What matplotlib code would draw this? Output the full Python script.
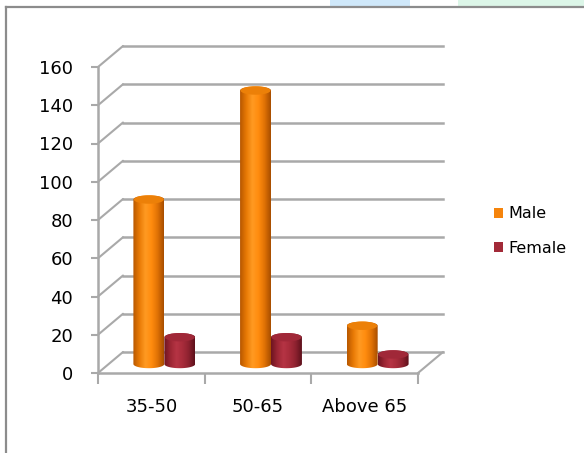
import numpy as np
import matplotlib
matplotlib.use('Agg')
import matplotlib.pyplot as plt
from matplotlib.patches import PathPatch, Ellipse, Patch, Rectangle
from matplotlib.path import Path
from matplotlib.colors import LinearSegmentedColormap
from matplotlib.lines import Line2D
import matplotlib.transforms as mtransforms

categories = ['35-50', '50-65', 'Above 65']
male = [86, 143, 20]
female = [14, 14, 5]
series_names = ['Male', 'Female']
y_ticks = [0, 20, 40, 60, 80, 100, 120, 140, 160]

DPI = 100
fig = plt.figure(figsize=(5.84, 4.53), dpi=DPI)
W, H = 584, 453

# front plane of the pseudo-3D box
ax = fig.add_axes([98 / W, 80 / H, 320 / W, 306 / H])
ax.set_facecolor('none')

grid_col = '#a9a9a9'
depth = mtransforms.ScaledTranslation(25 / DPI, 21 / DPI, fig.dpi_scale_trans)
mid = mtransforms.ScaledTranslation(13 / DPI, 9 / DPI, fig.dpi_scale_trans)
back_tr = ax.transData + depth
mid_tr = ax.transData + mid

ncat = len(categories)

# back wall gridlines and the side/floor edges
for v in y_ticks:
    ax.add_line(Line2D([0, ncat], [v, v], transform=back_tr, color=grid_col,
                       lw=1.8, zorder=1, clip_on=False))
    ax.annotate('', xy=(0, v), xycoords=back_tr, xytext=(0, v),
                textcoords='data', arrowprops=dict(arrowstyle='-', color=grid_col, lw=1.5,
                                                   shrinkA=0, shrinkB=0), zorder=1)
ax.annotate('', xy=(ncat, 0), xycoords=back_tr, xytext=(ncat, 0),
            textcoords='data', arrowprops=dict(arrowstyle='-', color=grid_col, lw=1.5,
                                               shrinkA=0, shrinkB=0), zorder=1)

orange_cmap = LinearSegmentedColormap.from_list(
    'org', ['#b85800', '#e87a05', '#ff9a22', '#ff8c0e', '#e07205', '#a84e00'])
red_cmap = LinearSegmentedColormap.from_list(
    'red', ['#6e1520', '#9c2634', '#b63444', '#a82c3b', '#8e2230', '#5e111b'])
top_cols = ['#ec8008', '#a02838']
cmaps = [orange_cmap, red_cmap]

bar_w = 0.29
ell_h = 4.4  # ellipse height in value units


def cylinder(xc, val, cmap, top_col):
    x0, x1 = xc - bar_w / 2, xc + bar_w / 2
    t = np.linspace(np.pi, 2 * np.pi, 40)
    bottom = np.column_stack([xc + bar_w / 2 * np.cos(t), ell_h / 2 * np.sin(t)])
    t2 = np.linspace(0, np.pi, 40)
    top = np.column_stack([xc + bar_w / 2 * np.cos(t2), val + ell_h / 2 * np.sin(t2)])
    verts = np.vstack([bottom, top, bottom[:1]])
    shape = PathPatch(Path(verts), transform=mid_tr, facecolor='none',
                      edgecolor='none', zorder=3)
    ax.add_patch(shape)
    grad = np.linspace(0, 1, 64).reshape(1, -1)
    im = ax.imshow(grad, cmap=cmap, aspect='auto', extent=(x0, x1, -ell_h, val + ell_h),
                   transform=mid_tr, zorder=3, interpolation='bilinear')
    im.set_clip_path(shape)
    ax.add_patch(Ellipse((xc, val), bar_w * 0.97, ell_h, transform=mid_tr,
                         facecolor=top_col, edgecolor='none', zorder=4))


for s, (vals, cmap, tc) in enumerate(zip([male, female], cmaps, top_cols)):
    for i, v in enumerate(vals):
        xc = i + 0.5 + (-0.145 if s == 0 else 0.145)
        cylinder(xc, v, cmap, tc)

ax.set_xlim(0, ncat)
ax.set_ylim(0, 160)

for side in ['top', 'right']:
    ax.spines[side].set_visible(False)
for side in ['left', 'bottom']:
    ax.spines[side].set_color(grid_col)
    ax.spines[side].set_linewidth(1.8)

ax.set_yticks(y_ticks)
ax.tick_params(axis='y', length=5, width=1.5, color=grid_col, pad=13, labelsize=13)
ax.set_xticks(np.arange(ncat + 1))
ax.set_xticklabels([])
ax.tick_params(axis='x', which='major', length=8, width=1.5, color=grid_col)
ax.set_xticks(np.arange(ncat) + 0.5, minor=True)
ax.set_xticklabels(categories, minor=True)
ax.tick_params(axis='x', which='minor', length=0, pad=18, labelsize=13)

handles = [Patch(facecolor='#f5840c', edgecolor='none'),
           Patch(facecolor='#a22a38', edgecolor='none')]
fig.legend(handles, series_names, loc='center left', bbox_to_anchor=(480 / W, 1 - 231 / H),
           frameon=False, fontsize=11.5, handlelength=0.55, handleheight=0.55,
           handletextpad=0.3, labelspacing=1.2)

# chart frame and the page strip above it
fig.add_artist(Rectangle((330 / W, 1 - 7 / H), 80 / W, 7 / H, transform=fig.transFigure,
                         facecolor='#cfe8fa', edgecolor='none'))
fig.add_artist(Rectangle((458 / W, 1 - 7 / H), 126 / W, 7 / H, transform=fig.transFigure,
                         facecolor='#dcf6e8', edgecolor='none'))
fig.add_artist(Line2D([6 / W, 6 / W], [0, 1 - 7 / H], transform=fig.transFigure,
                      color='#8c8c8c', lw=1.6))
fig.add_artist(Line2D([6 / W, 1], [1 - 7 / H, 1 - 7 / H], transform=fig.transFigure,
                      color='#8c8c8c', lw=1.6))

fig.savefig('out.png', dpi=DPI, facecolor='white')
